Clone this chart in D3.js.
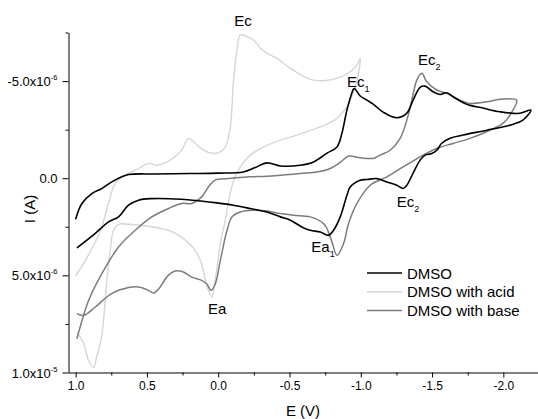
<!DOCTYPE html>
<html>
<head>
<meta charset="utf-8">
<script src="https://cdn.jsdelivr.net/npm/d3@7"></script>
<style>
  body { margin: 0; background: #fff; }
  svg { display: block; }
  text { font-family: "Liberation Sans", Arial, Helvetica, sans-serif; fill: #000; }
</style>
</head>
<body>
<svg id="chart" width="538" height="419"></svg>
<script>
// Axis ticks: potential E in V, current I in units of 10^-6 A (cathodic up)
const potentialTicks = [1.0, 0.5, 0.0, -0.5, -1.0, -1.5, -2.0];
const potentialTickLabels = ["1.0", "0.5", "0.0", "-0.5", "-1.0", "-1.5", "-2.0"];
const potentialMinorTicks = [0.75, 0.25, -0.25, -0.75, -1.25, -1.75, -2.25];
const currentTicks = [-5, 0, 5, 10];
const currentTickMantissa = ["-5.0x10", "0.0", "5.0x10", "1.0x10"];
const currentTickExponent = ["-6", "", "-6", "-5"];
const currentMinorTicks = [-7.5, -2.5, 2.5, 7.5];

const seriesNames = ["DMSO", "DMSO with acid", "DMSO with base"];
const seriesColors = ["#000000", "#d6d6d6", "#7c7c7c"];

// Voltammograms as [E (V), I (10^-6 A)] in scan order
const dmsoScan = [
  [1.000, 2.11], [0.956, 1.30], [0.886, 0.79], [0.816, 0.53], [0.746, 0.19],
  [0.676, -0.07], [0.629, -0.19], [0.45, -0.22], [0.20, -0.24], [0.00, -0.26],
  [-0.176, -0.32], [-0.26, -0.55], [-0.342, -0.79], [-0.436, -0.63], [-0.576, -0.67],
  [-0.669, -0.84], [-0.763, -1.29], [-0.833, -1.61], [-0.868, -2.32], [-0.903, -3.51],
  [-0.949, -4.59], [-0.956, -4.62], [-0.996, -4.23], [-1.043, -4.02], [-1.087, -3.81],
  [-1.157, -3.40], [-1.253, -3.11], [-1.323, -3.35], [-1.367, -4.02], [-1.416, -4.68],
  [-1.451, -4.74], [-1.507, -4.45], [-1.556, -4.31], [-1.603, -4.40], [-1.647, -4.19],
  [-1.743, -3.81], [-1.857, -3.61], [-1.976, -3.42], [-2.116, -3.34], [-2.193, -3.51],
  [-2.137, -2.99], [-2.046, -2.73], [-1.883, -2.47], [-1.717, -2.22], [-1.626, -2.06],
  [-1.568, -1.80], [-1.533, -1.44], [-1.498, -1.27], [-1.451, -1.19], [-1.416, -0.93],
  [-1.367, -0.26], [-1.323, 0.36], [-1.297, 0.53], [-1.253, 0.36], [-1.183, 0.19],
  [-1.113, 0.02], [-1.043, 0.07], [-0.996, 0.10], [-0.926, 0.45], [-0.903, 0.88],
  [-0.856, 1.99], [-0.809, 2.68], [-0.774, 2.94], [-0.716, 2.77], [-0.646, 2.68],
  [-0.597, 2.55], [-0.506, 2.16], [-0.436, 1.99], [-0.342, 1.74], [-0.225, 1.56],
  [-0.106, 1.39], [0.008, 1.27], [0.125, 1.17], [0.258, 1.08], [0.468, 1.05],
  [0.559, 1.13], [0.629, 1.39], [0.699, 1.99], [0.769, 2.25], [0.862, 2.84],
  [0.991, 3.59]
];

const acidScan = [
  [1.000, 5.02], [0.918, 4.06], [0.825, 2.68], [0.769, 1.29], [0.722, 0.26],
  [0.652, -0.15], [0.559, -0.50], [0.489, -0.76], [0.428, -0.67], [0.358, -0.84],
  [0.265, -1.36], [0.207, -2.05], [0.160, -1.79], [0.102, -1.44], [0.032, -1.27],
  [-0.015, -1.36], [-0.050, -1.61], [-0.085, -2.64], [-0.106, -4.90], [-0.132, -6.60],
  [-0.155, -7.37], [-0.202, -7.28], [-0.249, -7.11], [-0.296, -6.69], [-0.342, -6.43],
  [-0.412, -6.17], [-0.506, -5.65], [-0.597, -5.26], [-0.669, -5.05], [-0.739, -5.02],
  [-0.833, -5.14], [-0.926, -5.48], [-0.973, -5.82], [-0.996, -6.17], [-0.984, -5.40],
  [-0.949, -4.45], [-0.903, -3.68], [-0.833, -3.08], [-0.716, -2.64], [-0.552, -2.22],
  [-0.436, -1.96], [-0.319, -1.61], [-0.225, -1.19], [-0.155, -0.58], [-0.109, 0.10],
  [-0.074, 1.13], [-0.050, 2.16], [-0.015, 3.35], [0.008, 4.57], [0.032, 5.77],
  [0.043, 6.12], [0.076, 5.62], [0.118, 4.38], [0.162, 3.71], [0.258, 3.03],
  [0.349, 2.68], [0.489, 2.47], [0.629, 2.37], [0.699, 2.37], [0.734, 2.68],
  [0.757, 3.71], [0.783, 5.41], [0.818, 8.18], [0.853, 9.21], [0.874, 9.73],
  [0.909, 9.38], [0.944, 8.51], [0.991, 7.92]
];

const baseScan = [
  [0.991, 8.26], [0.909, 6.29], [0.816, 4.91], [0.699, 3.54], [0.582, 2.68],
  [0.466, 1.99], [0.349, 1.56], [0.256, 1.30], [0.186, 1.30], [0.116, 0.96],
  [0.069, 0.45], [0.022, 0.10], [-0.071, 0.02], [-0.225, -0.07], [-0.342, -0.10],
  [-0.576, -0.24], [-0.693, -0.32], [-0.786, -0.50], [-0.856, -0.82], [-0.914, -1.13],
  [-0.996, -1.05], [-1.087, -1.02], [-1.136, -1.19], [-1.206, -1.44], [-1.276, -2.05],
  [-1.323, -2.99], [-1.358, -4.02], [-1.393, -5.05], [-1.428, -5.40], [-1.463, -4.96],
  [-1.533, -4.54], [-1.603, -4.37], [-1.696, -4.02], [-1.766, -3.85], [-1.883, -3.93],
  [-1.976, -4.06], [-2.093, -4.02], [-2.046, -3.25], [-1.997, -2.82], [-1.883, -2.39],
  [-1.766, -2.05], [-1.647, -1.79], [-1.533, -1.53], [-1.416, -1.10], [-1.297, -0.58],
  [-1.183, -0.07], [-1.066, 0.36], [-0.973, 1.30], [-0.914, 2.34], [-0.879, 3.37],
  [-0.833, 3.97], [-0.798, 3.28], [-0.763, 2.59], [-0.739, 2.34], [-0.646, 1.99],
  [-0.529, 1.91], [-0.436, 1.82], [-0.342, 1.69], [-0.249, 1.65], [-0.155, 1.74],
  [-0.097, 1.99], [-0.062, 2.68], [-0.015, 4.23], [0.020, 5.43], [0.050, 5.77],
  [0.081, 5.43], [0.116, 5.26], [0.186, 5.09], [0.244, 4.83], [0.302, 4.78],
  [0.361, 5.09], [0.407, 5.60], [0.454, 5.91], [0.489, 5.77], [0.559, 5.60],
  [0.629, 5.63], [0.748, 5.94], [0.862, 6.63], [0.944, 7.06], [0.991, 6.97]
];

// Peak annotations: [label, subscript, E, I]
const peakLabels = [
  ["Ec", "", -0.113, -7.83],
  ["Ec", "1", -0.903, -4.71],
  ["Ec", "2", -1.402, -5.83],
  ["Ec", "2", -1.253, 1.48],
  ["Ea", "1", -0.653, 3.81],
  ["Ea", "", 0.071, 6.99]
];

const svg = d3.select("#chart");
const plot = { left: 68.5, right: 539, top: 32.5, bottom: 372.5 };

const x = d3.scaleLinear().domain([1.05, -2.25]).range([plot.left, plot.right]);
const y = d3.scaleLinear().domain([-7.5, 10]).range([plot.top, plot.bottom]);

// Voltammogram traces
const line = d3.line()
  .x(d => x(d[0]))
  .y(d => y(d[1]))
  .curve(d3.curveCatmullRom.alpha(0.5));

const scans = [dmsoScan, acidScan, baseScan];
const widths = [1.6, 1.4, 1.5];
// draw the light trace first so the darker ones sit on top
[1, 2, 0].forEach(i => {
  svg.append("path")
    .datum(scans[i])
    .attr("d", line)
    .attr("fill", "none")
    .attr("stroke", seriesColors[i])
    .attr("stroke-width", widths[i])
    .attr("stroke-linejoin", "round");
});

// X axis
const xAxis = svg.append("g")
  .attr("transform", `translate(0,${plot.bottom})`)
  .call(d3.axisBottom(x)
    .tickValues(potentialTicks)
    .tickFormat((d, i) => potentialTickLabels[i])
    .tickSize(5).tickSizeOuter(0).tickPadding(4));
svg.append("g")
  .attr("transform", `translate(0,${plot.bottom})`)
  .call(d3.axisBottom(x).tickValues(potentialMinorTicks).tickFormat("").tickSize(3).tickSizeOuter(0))
  .select(".domain").remove();

// Y axis
const yAxis = svg.append("g")
  .attr("transform", `translate(${plot.left},0)`)
  .call(d3.axisLeft(y)
    .tickValues(currentTicks)
    .tickFormat("")
    .tickSize(6).tickSizeOuter(0));
svg.append("g")
  .attr("transform", `translate(${plot.left},0)`)
  .call(d3.axisLeft(y).tickValues(currentMinorTicks).tickFormat("").tickSize(3).tickSizeOuter(0))
  .select(".domain").remove();

// Y tick labels with superscript exponents
currentTicks.forEach((v, i) => {
  const t = svg.append("text")
    .attr("x", plot.left - 11)
    .attr("y", y(v) + 5)
    .attr("text-anchor", "end")
    .attr("font-size", 13);
  t.append("tspan").text(currentTickMantissa[i]);
  if (currentTickExponent[i]) {
    t.append("tspan")
      .attr("dy", -6)
      .attr("font-size", 7.5)
      .text(currentTickExponent[i]);
  }
});

svg.selectAll(".domain, .tick line").attr("stroke", "#000").attr("stroke-width", 1);
xAxis.selectAll(".tick text").attr("font-size", 12).attr("font-family", "Liberation Sans, Arial, sans-serif").attr("fill", "#000");

// Axis titles
svg.append("text")
  .attr("x", 303).attr("y", 416)
  .attr("text-anchor", "middle")
  .attr("font-size", 15)
  .text("E (V)");
svg.append("text")
  .attr("transform", "translate(35,209) rotate(-90)")
  .attr("text-anchor", "middle")
  .attr("font-size", 15)
  .text("I (A)");

// Peak labels
peakLabels.forEach(([label, sub, e, cur]) => {
  const t = svg.append("text")
    .attr("x", x(e)).attr("y", y(cur))
    .attr("font-size", 15);
  t.append("tspan").text(label);
  if (sub) {
    t.append("tspan").attr("dy", 5).attr("font-size", 9).text(sub);
  }
});

// Legend
const legend = svg.append("g").attr("transform", "translate(367,273)");
seriesNames.forEach((name, i) => {
  const row = legend.append("g").attr("transform", `translate(0,${i * 18.7})`);
  row.append("line")
    .attr("x1", 0).attr("x2", 35).attr("y1", 0).attr("y2", 0)
    .attr("stroke", seriesColors[i])
    .attr("stroke-width", widths[i]);
  row.append("text")
    .attr("x", 40).attr("y", 5.5)
    .attr("font-size", 15)
    .text(name);
});
</script>
</body>
</html>
